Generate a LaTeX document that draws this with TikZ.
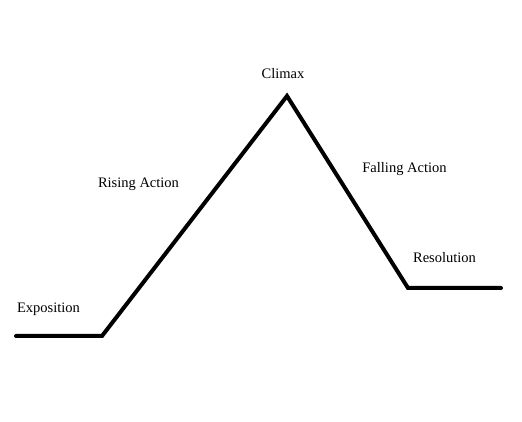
\documentclass[tikz,border=0pt]{standalone}
\usepackage{fontspec}
\setmainfont{Liberation Serif}
\usetikzlibrary{positioning}
\tikzstyle{stage} = [inner sep=0pt, anchor=base, font=\fontsize{14.5}{17}\selectfont]
\tikzstyle{plotline} = [line width=4pt, line cap=round, line join=miter, draw=black]

\begin{document}
\begin{tikzpicture}[x=1pt, y=1pt]

\useasboundingbox (0,0) rectangle (522,422);

\coordinate (start) at (16,86);
\coordinate (incite) at (102,86);
\coordinate (peak) at (287,326);
\coordinate (settle) at (408,134);
\coordinate (finish) at (501,134);

\node (expo) [stage] at (48.5,109) {Exposition};
\node (rising) [stage] at (138.5,234) {Rising Action};
\node (climax) [stage] at (283,343) {Climax};
\node (falling) [stage] at (404.5,249) {Falling Action};
\node (resol) [stage] at (444.5,159) {Resolution};

\draw [plotline] (start) -- (incite) -- (peak) -- (settle) -- (finish);

\end{tikzpicture}
\end{document}
